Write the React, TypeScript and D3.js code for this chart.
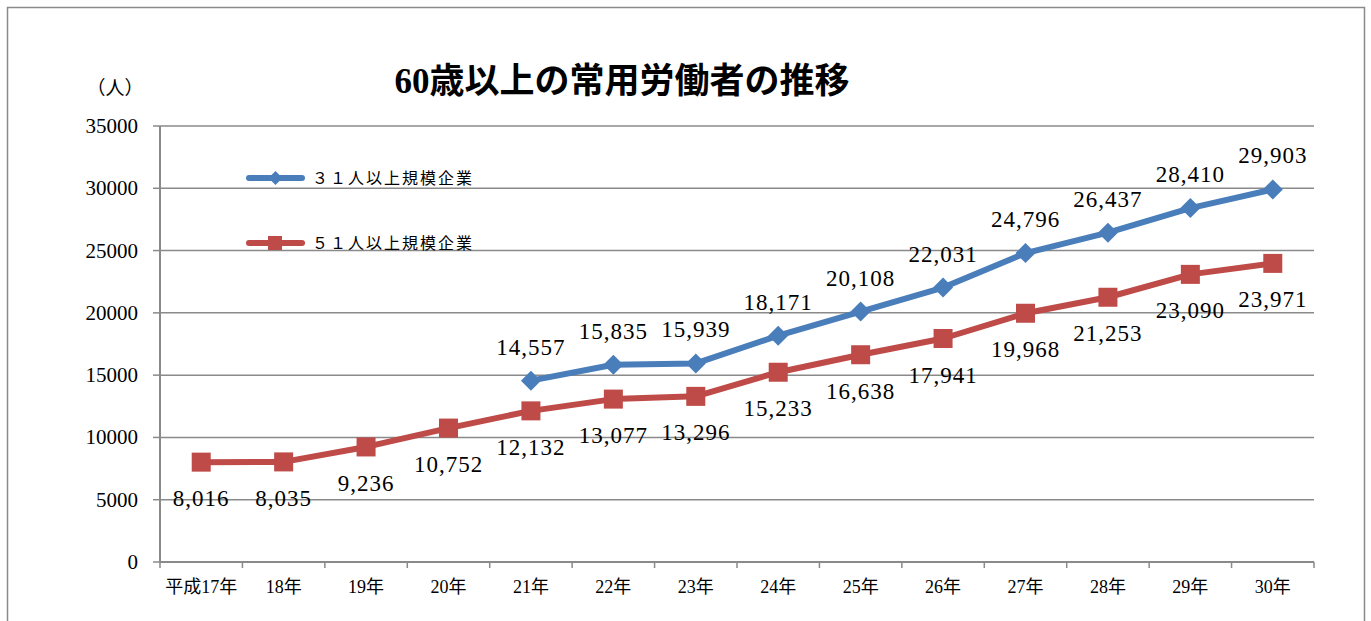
import React from "react";
import * as d3 from "d3";

const categories = ["平成17年", "18年", "19年", "20年", "21年", "22年", "23年", "24年", "25年", "26年", "27年", "28年", "29年", "30年"];
const series31: (number | null)[] = [null, null, null, null, 14557, 15835, 15939, 18171, 20108, 22031, 24796, 26437, 28410, 29903];
const series51: number[] = [8016, 8035, 9236, 10752, 12132, 13077, 13296, 15233, 16638, 17941, 19968, 21253, 23090, 23971];
const yTicks = [0, 5000, 10000, 15000, 20000, 25000, 30000, 35000];
const title = "60歳以上の常用労働者の推移";
const unitLabel = "（人）";
const legend31 = "３１人以上規模企業";
const legend51 = "５１人以上規模企業";

const BLUE = "#4a7ebb";
const RED = "#be4b48";
const GRID = "#8a8a8a";
const SERIF = "'Liberation Serif', 'Noto Sans CJK JP', serif";
const JP = "'Liberation Serif', 'Noto Sans CJK JP', serif";

export default function App() {
  const W = 1371, H = 621;
  const left = 160, right = 1314, top = 126, bottom = 562;
  const x = d3.scaleBand<string>().domain(categories).range([left, right]);
  const y = d3.scaleLinear().domain([0, 35000]).range([bottom, top]);
  const cx = (c: string) => (x(c) as number) + x.bandwidth() / 2;
  const fmt = d3.format(",");

  const pts31 = categories.map((c, i) => ({ c, v: series31[i] })).filter((d) => d.v != null) as { c: string; v: number }[];
  const pts51 = categories.map((c, i) => ({ c, v: series51[i] }));
  const line = d3.line<{ c: string; v: number }>().x((d) => cx(d.c)).y((d) => y(d.v));

  const diamond = (px: number, py: number, r: number) => `M${px},${py - r}L${px + r},${py}L${px},${py + r}L${px - r},${py}Z`;

  const ticksX = [...categories.map((c) => x(c) as number), right];

  return (
    <svg width={W} height={H} style={{ position: "absolute", left: 0, top: 0, background: "#fff" }}>
      <rect x={7.5} y={7.5} width={1357} height={700} fill="#fff" stroke={GRID} strokeWidth={1.5} />
      {/* title */}
      <text x={622} y={93} textAnchor="middle" fontFamily={JP} fontSize={35} fontWeight={700} fill="#000">{title}</text>
      <text x={115} y={95} textAnchor="middle" fontFamily={JP} fontSize={19} fill="#000">{unitLabel}</text>
      {/* gridlines */}
      {yTicks.map((t) => (
        <g key={t}>
          {t > 0 && <line x1={left} x2={right} y1={y(t)} y2={y(t)} stroke={GRID} strokeWidth={1.5} />}
          <line x1={left - 7} x2={left} y1={y(t)} y2={y(t)} stroke={GRID} strokeWidth={1.5} />
          <text x={138} y={y(t) + 7} textAnchor="end" fontFamily={SERIF} fontSize={21} fill="#000">{t}</text>
        </g>
      ))}
      {/* axes */}
      <line x1={left} x2={left} y1={top} y2={bottom} stroke={GRID} strokeWidth={2} />
      <line x1={left} x2={right} y1={bottom} y2={bottom} stroke={GRID} strokeWidth={2} />
      {ticksX.map((tx, i) => (
        <line key={i} x1={tx} x2={tx} y1={bottom} y2={bottom + 6} stroke={GRID} strokeWidth={1.5} />
      ))}
      {categories.map((c) => (
        <text key={c} x={cx(c)} y={593} textAnchor="middle" fontFamily={JP} fontSize={18} fill="#000">{c}</text>
      ))}
      {/* legend */}
      <line x1={249} x2={302} y1={178} y2={178} stroke={BLUE} strokeWidth={6} strokeLinecap="round" />
      <path d={diamond(275.5, 178, 7)} fill={BLUE} />
      <text x={312} y={184} fontFamily={JP} fontSize={16} letterSpacing={2} fill="#000">{legend31}</text>
      <line x1={249} x2={302} y1={243} y2={243} stroke={RED} strokeWidth={6} strokeLinecap="round" />
      <rect x={268} y={236} width={14} height={14} fill={RED} />
      <text x={312} y={249} fontFamily={JP} fontSize={16} letterSpacing={2} fill="#000">{legend51}</text>
      {/* red series */}
      <path d={line(pts51) as string} fill="none" stroke={RED} strokeWidth={6} strokeLinejoin="round" />
      {pts51.map((d) => (
        <rect key={d.c} x={cx(d.c) - 9.5} y={y(d.v) - 9.5} width={19} height={19} fill={RED} />
      ))}
      {/* blue series */}
      <path d={line(pts31) as string} fill="none" stroke={BLUE} strokeWidth={6} strokeLinejoin="round" />
      {pts31.map((d) => (
        <path key={d.c} d={diamond(cx(d.c), y(d.v), 10)} fill={BLUE} />
      ))}
      {/* labels */}
      {pts51.map((d) => (
        <text key={"l51" + d.c} x={cx(d.c)} y={y(d.v) + 44} textAnchor="middle" fontFamily={SERIF} fontSize={23} letterSpacing={1} fill="#000">{fmt(d.v)}</text>
      ))}
      {pts31.map((d) => (
        <text key={"l31" + d.c} x={cx(d.c)} y={y(d.v) - 26} textAnchor="middle" fontFamily={SERIF} fontSize={23} letterSpacing={1} fill="#000">{fmt(d.v)}</text>
      ))}
    </svg>
  );
}
